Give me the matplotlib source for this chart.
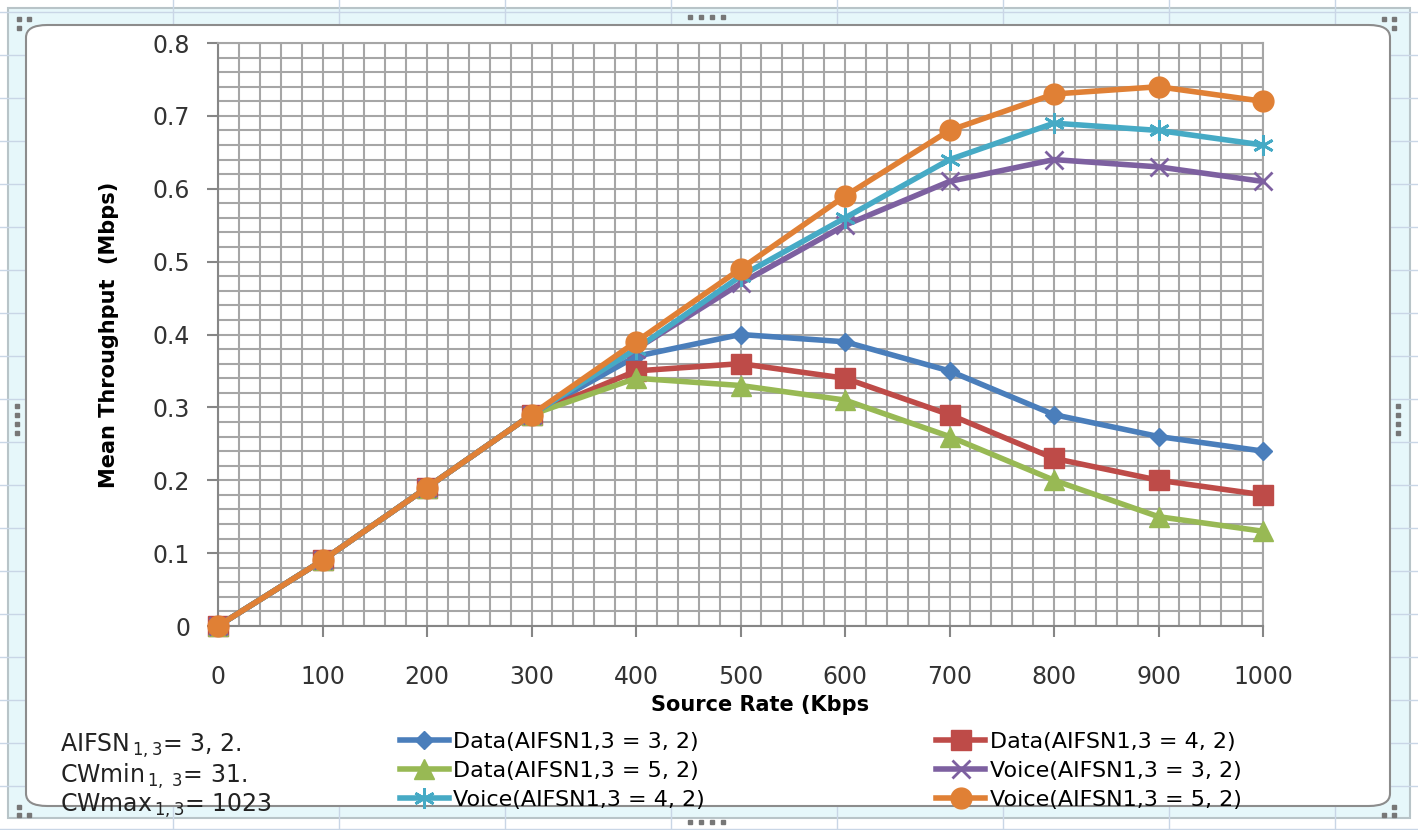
import matplotlib.pyplot as plt
import numpy as np
from matplotlib.patches import Rectangle, FancyBboxPatch
from matplotlib.lines import Line2D

# source rate (Kbps)
rate = [0, 100, 200, 300, 400, 500, 600, 700, 800, 900, 1000]

data_3_2 = [0, 0.09, 0.19, 0.29, 0.37, 0.40, 0.39, 0.35, 0.29, 0.26, 0.24]
data_4_2 = [0, 0.09, 0.19, 0.29, 0.35, 0.36, 0.34, 0.29, 0.23, 0.20, 0.18]
data_5_2 = [0, 0.09, 0.19, 0.29, 0.34, 0.33, 0.31, 0.26, 0.20, 0.15, 0.13]
voice_3_2 = [0, 0.09, 0.19, 0.29, 0.38, 0.47, 0.55, 0.61, 0.64, 0.63, 0.61]
voice_4_2 = [0, 0.09, 0.19, 0.29, 0.38, 0.48, 0.56, 0.64, 0.69, 0.68, 0.66]
voice_5_2 = [0, 0.09, 0.19, 0.29, 0.39, 0.49, 0.59, 0.68, 0.73, 0.74, 0.72]

labels = ['Data(AIFSN1,3 = 3, 2)', 'Data(AIFSN1,3 = 4, 2)', 'Data(AIFSN1,3 = 5, 2)',
          'Voice(AIFSN1,3 = 3, 2)', 'Voice(AIFSN1,3 = 4, 2)', 'Voice(AIFSN1,3 = 5, 2)']
series = [data_3_2, data_4_2, data_5_2, voice_3_2, voice_4_2, voice_5_2]
colors = ['#4a7ebb', '#be4b48', '#98b954', '#7d60a0', '#46aac5', '#e08035']
markers = ['D', 's', '^', 'x', (6, 2, 0), 'o']
msizes = [9, 14, 14, 13, 15, 15]

W, H = 1418, 830
fig = plt.figure(figsize=(W / 100, H / 100), dpi=100)

def fx(x):
    return x / W

def fy(y):
    return 1 - y / H

# spreadsheet look around the chart
fig.add_artist(Rectangle((fx(8), fy(818)), fx(1402), (818 - 8) / H, transform=fig.transFigure,
                         facecolor='#e6f7fa', edgecolor='#b8c4c8', lw=1.5, zorder=-3))
for x in range(173, W, 166):
    fig.add_artist(Line2D([fx(x), fx(x)], [0, 1], transform=fig.transFigure,
                          color='#c9d6e6', lw=1, zorder=-2))
for y in range(12, H, 43):
    fig.add_artist(Line2D([0, 1], [fy(y), fy(y)], transform=fig.transFigure,
                          color='#c9d6e6', lw=1, zorder=-2))
fig.add_artist(FancyBboxPatch((fx(26), fy(806)), fx(1390 - 26), (806 - 25) / H,
                              boxstyle='round,pad=0,rounding_size=0.015',
                              transform=fig.transFigure, facecolor='white',
                              edgecolor='#8c8c8c', lw=1.5, zorder=-1))
# resize handles
hx = [fx(v) for v in (690, 701, 712, 723)]
for y in (17, 822):
    fig.add_artist(Line2D(hx, [fy(y)] * 4, transform=fig.transFigure, ls='none',
                          marker='s', ms=3, color='#777777', zorder=-0.5))
hy = [fy(v) for v in (406, 415, 424, 433)]
for x in (17, 1398):
    fig.add_artist(Line2D([fx(x)] * 4, hy, transform=fig.transFigure, ls='none',
                          marker='s', ms=3, color='#777777', zorder=-0.5))
for cx, cy in [((19, 29, 19), (19, 19, 28)), ((1384, 1394, 1394), (19, 19, 28)),
               ((19, 29, 19), (815, 815, 807)), ((1384, 1394, 1394), (815, 815, 807))]:
    fig.add_artist(Line2D([fx(v) for v in cx], [fy(v) for v in cy], transform=fig.transFigure,
                          ls='none', marker='s', ms=3, color='#777777', zorder=-0.5))

ax = fig.add_axes([fx(218), fy(626), fx(1263 - 218), (626 - 43) / H])
ax.set_facecolor('white')

handles = []
for vals, lab, c, m, ms in zip(series, labels, colors, markers, msizes):
    mew = 2 if m in ('x', (6, 2, 0)) else 1
    h, = ax.plot(rate, vals, color=c, lw=4, marker=m, ms=ms, mew=mew, label=lab,
                 clip_on=False, zorder=3)
    handles.append(h)

ax.set_xlim(0, 1000)
ax.set_ylim(0, 0.8)
ax.set_xticks(np.arange(0, 1001, 100))
ax.set_xticks(np.arange(0, 1001, 20), minor=True)
ax.set_yticks(np.arange(0, 0.81, 0.1))
ax.set_yticks(np.arange(0, 0.81, 0.02), minor=True)
ax.set_yticklabels(['0'] + ['%.1f' % v for v in np.arange(0.1, 0.81, 0.1)])
ax.grid(which='both', color='#a6a6a6', lw=1.5, zorder=0)
ax.set_axisbelow(True)
ax.tick_params(which='major', direction='out', length=8, width=1.5, color='#868686',
               labelsize=17, labelcolor='#333333')
ax.tick_params(axis='y', pad=12)
ax.tick_params(axis='x', pad=20)
ax.tick_params(which='minor', length=0)
for s in ax.spines.values():
    s.set_color('#a6a6a6')
    s.set_linewidth(1.5)
ax.spines['left'].set_color('#868686')
ax.spines['bottom'].set_color('#868686')

ax.set_ylabel('Mean Throughput  (Mbps)', fontsize=15, fontweight='bold', labelpad=24)
fig.text(fx(760), fy(705), 'Source Rate (Kbps', fontsize=15, fontweight='bold',
         ha='center', va='center')

order = [0, 2, 4, 1, 3, 5]
fig.legend([handles[i] for i in order], [labels[i] for i in order], ncol=2,
           loc='upper left', bbox_to_anchor=(fx(400), fy(732)), frameon=False,
           fontsize=16, handlelength=2.2, handletextpad=0.2, columnspacing=10.4,
           labelspacing=0.4, borderpad=0, borderaxespad=0)

info = [r'AIFSN$_{\,1,3}$= 3, 2.', r'CWmin$_{\,1,\ 3}$= 31.', r'CWmax$_{\,1,3}$= 1023']
for i, t in enumerate(info):
    fig.text(fx(60), fy(746 + 30 * i), t, fontsize=17, ha='left', va='center', color='#222222')

fig.savefig('out.png', dpi=100)
